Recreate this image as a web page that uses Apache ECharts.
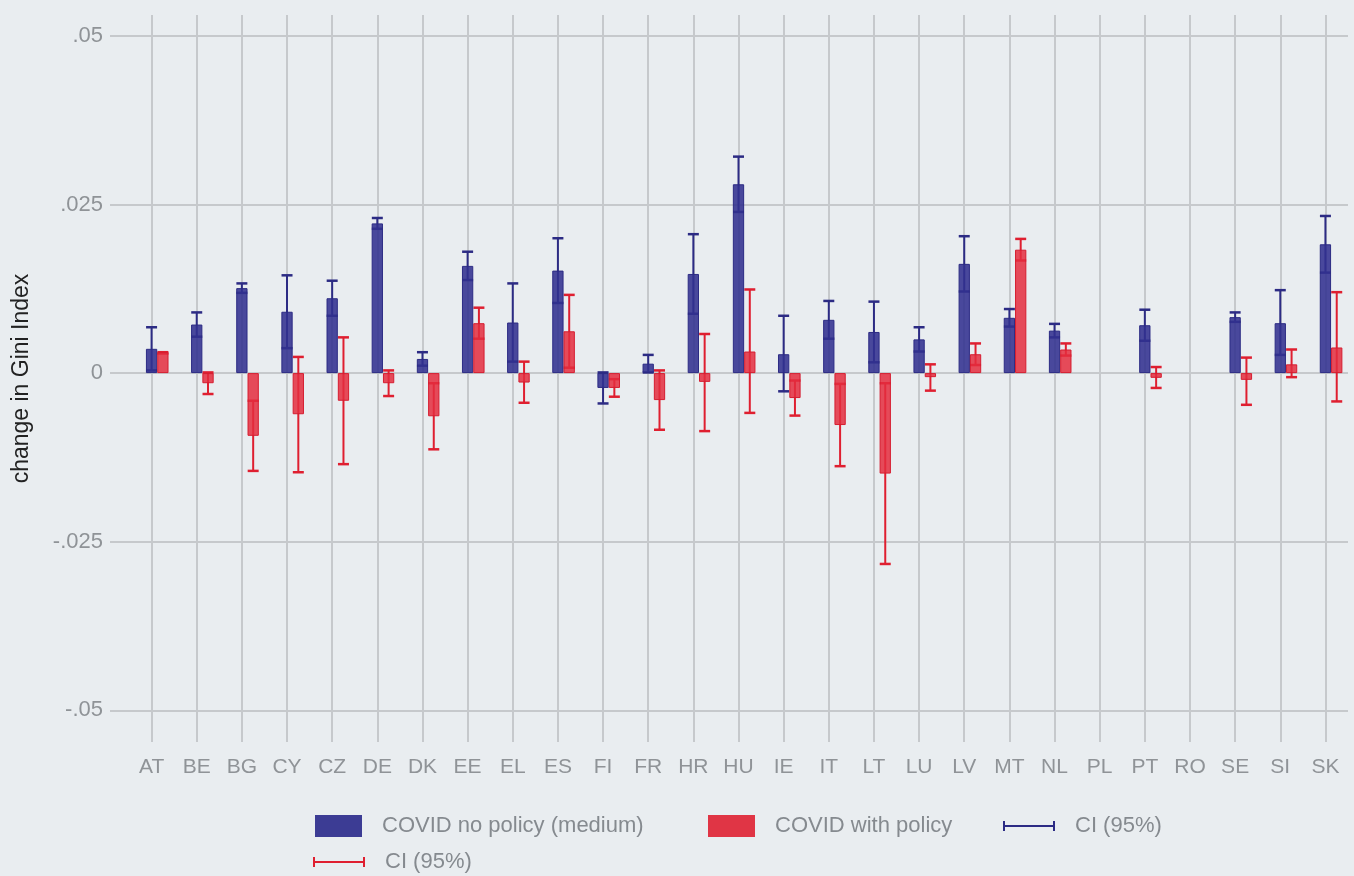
<!DOCTYPE html>
<html>
<head>
<meta charset="utf-8">
<title>change in Gini Index</title>
<script src="https://cdn.jsdelivr.net/npm/echarts@6/dist/echarts.min.js"></script>
<style>
  html, body { margin: 0; padding: 0; background: #e9edf0; }
  #chart { width: 1354px; height: 876px; }
</style>
</head>
<body>
<div id="chart"></div>
<script>
// countries on the x axis
const countries = ['AT', 'BE', 'BG', 'CY', 'CZ', 'DE', 'DK', 'EE', 'EL', 'ES', 'FI', 'FR', 'HR', 'HU',
  'IE', 'IT', 'LT', 'LU', 'LV', 'MT', 'NL', 'PL', 'PT', 'RO', 'SE', 'SI', 'SK']

// COVID no policy (medium) + 95% CI
const noPolicy = [0.0036, 0.0072, 0.0126, 0.0091, 0.0111, 0.0222, 0.0021, 0.0159, 0.0075, 0.0152, -0.0022, 0.0014, 0.0147, 0.0280,
  0.0028, 0.0079, 0.0061, 0.0050, 0.0162, 0.0082, 0.0063, null, 0.0071, null, 0.0083, 0.0074, 0.0191]
const noPolicyLo = [0.0004, 0.0054, 0.0119, 0.0037, 0.0085, 0.0214, 0.0011, 0.0138, 0.0017, 0.0104, -0.0045, 0.0001, 0.0088, 0.0239,
  -0.0027, 0.0051, 0.0016, 0.0032, 0.0121, 0.0069, 0.0053, null, 0.0048, null, 0.0076, 0.0027, 0.0149]
const noPolicyHi = [0.0068, 0.0090, 0.0133, 0.0145, 0.0137, 0.0230, 0.0031, 0.0180, 0.0133, 0.0200, 0.0001, 0.0027, 0.0206, 0.0321,
  0.0085, 0.0107, 0.0106, 0.0068, 0.0203, 0.0095, 0.0073, null, 0.0094, null, 0.0090, 0.0123, 0.0233]

// COVID with policy + 95% CI
const withPolicy = [0.0031, -0.0015, -0.0093, -0.0061, -0.0041, -0.0015, -0.0064, 0.0074, -0.0014, 0.0062, -0.0022, -0.0040, -0.0013, 0.0032,
  -0.0037, -0.0077, -0.0149, -0.0006, 0.0028, 0.0183, 0.0035, null, -0.0007, null, -0.0010, 0.0013, 0.0038]
const withPolicyLo = [0.0029, -0.0031, -0.0145, -0.0147, -0.0135, -0.0034, -0.0113, 0.0051, -0.0044, 0.0008, -0.0035, -0.0084, -0.0086, -0.0059,
  -0.0063, -0.0138, -0.0283, -0.0026, 0.0012, 0.0167, 0.0026, null, -0.0022, null, -0.0047, -0.0006, -0.0042]
const withPolicyHi = [0.0031, 0.0001, -0.0041, 0.0024, 0.0053, 0.0004, -0.0015, 0.0097, 0.0017, 0.0116, -0.0009, 0.0004, 0.0058, 0.0124,
  -0.0011, -0.0016, -0.0015, 0.0013, 0.0044, 0.0199, 0.0044, null, 0.0009, null, 0.0023, 0.0035, 0.0120]

// y axis ticks
const yTicks = [-0.05, -0.025, 0, 0.025, 0.05]

const GRID = '#c6c9cc'
const BAR_W = 11.3
const FONT = 'Liberation Sans, Arial, sans-serif'
const CI_ICON = 'path://M0,0H2V4H50V0H52V10H50V6H2V10H0Z'

function ciData(lo, hi) {
  const out = []
  lo.forEach((v, i) => {
    if (v != null && hi[i] != null) out.push([i, v, hi[i]])
  })
  return out
}

function ciRender(offset, color) {
  return function(params, api) {
    const x = api.coord([api.value(0), 0])[0] + offset
    const yLo = api.coord([api.value(0), api.value(1)])[1]
    const yHi = api.coord([api.value(0), api.value(2)])[1]
    const half = 5.5
    const stem = { stroke: color, lineWidth: 2 }
    const cap = { stroke: color, lineWidth: 2.5 }
    return {
      type: 'group',
      children: [
        { type: 'line', shape: { x1: x, y1: yLo, x2: x, y2: yHi }, style: stem },
        { type: 'line', shape: { x1: x - half, y1: yHi, x2: x + half, y2: yHi }, style: cap },
        { type: 'line', shape: { x1: x - half, y1: yLo, x2: x + half, y2: yLo }, style: cap }
      ]
    }
  }
}

function tickLabel(v) {
  if (v === 0) return '0'
  return (v < 0 ? '-' : '') + String(Math.abs(v)).replace(/^0/, '')
}

const legendBase = {
  orient: 'horizontal',
  padding: 0,
  itemHeight: 22,
  selectedMode: false,
  formatter: name => (name.indexOf('CI (95%)') === 0 ? 'CI (95%)' : name),
  textStyle: { fontFamily: FONT, fontSize: 22, color: '#858a8f', padding: [0, 0, 0, 15] }
}

const chart = echarts.init(document.getElementById('chart'))
chart.setOption({
  backgroundColor: '#e9edf0',
  animation: false,
  textStyle: { fontFamily: FONT },
  grid: { left: 129, right: 6, top: 15, bottom: 134, outerBoundsMode: 'none' },
  legend: [
    Object.assign({}, legendBase, {
      left: 315, top: 815, itemWidth: 47,
      data: [{ name: 'COVID no policy (medium)', icon: 'rect', itemStyle: { color: '#3c3c94', borderWidth: 0 } }]
    }),
    Object.assign({}, legendBase, {
      left: 708, top: 815, itemWidth: 47,
      data: [{ name: 'COVID with policy', icon: 'rect', itemStyle: { color: '#e03545', borderWidth: 0 } }]
    }),
    Object.assign({}, legendBase, { left: 1003, top: 815, itemWidth: 52, data: [{ name: 'CI (95%) no policy', icon: CI_ICON }] }),
    Object.assign({}, legendBase, { left: 313, top: 851, itemWidth: 52, data: [{ name: 'CI (95%) with policy', icon: CI_ICON }] })
  ],
  xAxis: {
    type: 'category',
    data: countries,
    axisLine: { show: false, onZero: false },
    axisTick: {
      show: true,
      inside: true,
      alignWithLabel: true,
      interval: 0,
      length: 727,
      lineStyle: { color: GRID, width: 2 }
    },
    axisLabel: { interval: 0, margin: 15, fontSize: 21, color: '#8f9397' },
    splitLine: { show: false }
  },
  yAxis: {
    type: 'value',
    min: -0.0547,
    max: 0.0531,
    name: 'change in Gini Index',
    nameLocation: 'middle',
    nameGap: 96,
    nameTextStyle: { fontSize: 23, color: '#222' },
    axisLine: { show: false },
    axisTick: { show: true, length: 19, customValues: yTicks, lineStyle: { color: GRID, width: 2 } },
    axisLabel: { customValues: yTicks, margin: 26, fontSize: 22, color: '#8f9397', formatter: tickLabel },
    splitLine: { show: true, lineStyle: { color: GRID, width: 2 } }
  },
  series: [
    {
      // empty series so the blue bar sits centered on the category line
      name: 'spacer',
      type: 'bar',
      data: [],
      barWidth: BAR_W,
      barGap: '0%'
    },
    {
      name: 'COVID no policy (medium)',
      type: 'bar',
      z: 3,
      data: noPolicy,
      barWidth: BAR_W,
      barGap: '0%',
      itemStyle: { color: 'rgba(50, 49, 143, 0.88)', borderColor: '#2c2b84', borderWidth: 1 }
    },
    {
      name: 'COVID with policy',
      type: 'bar',
      z: 3,
      data: withPolicy,
      barWidth: BAR_W,
      barGap: '0%',
      itemStyle: { color: 'rgba(228, 45, 62, 0.85)', borderColor: '#d61d30', borderWidth: 1 }
    },
    {
      name: 'CI (95%) no policy',
      type: 'custom',
      z: 1,
      itemStyle: { color: '#2c2b84' },
      renderItem: ciRender(0, '#2c2b84'),
      encode: { x: 0, y: [1, 2] },
      data: ciData(noPolicyLo, noPolicyHi)
    },
    {
      name: 'CI (95%) with policy',
      type: 'custom',
      z: 1,
      itemStyle: { color: '#df1f30' },
      renderItem: ciRender(BAR_W, '#df1f30'),
      encode: { x: 0, y: [1, 2] },
      data: ciData(withPolicyLo, withPolicyHi)
    }
  ]
})
</script>
</body>
</html>
